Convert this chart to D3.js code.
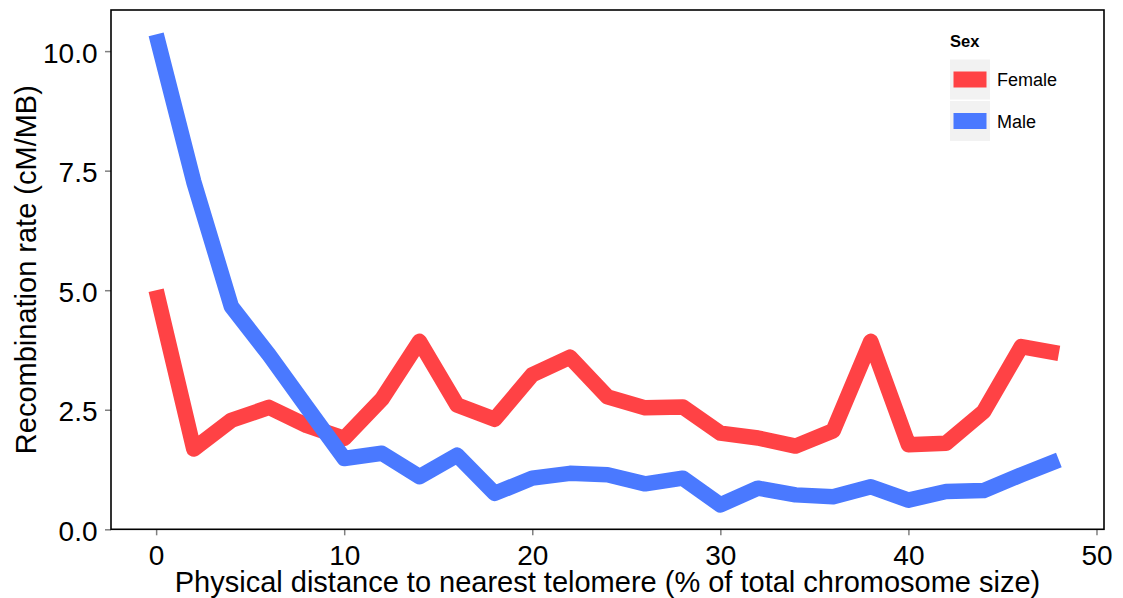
<!DOCTYPE html>
<html><head><meta charset="utf-8">
<script src="https://cdn.jsdelivr.net/npm/d3@7"></script>
<style>body{margin:0;background:#fff}svg{display:block;font-family:"Liberation Sans",Arial,sans-serif}</style>
</head><body><svg id="c" width="1123" height="598"></svg>
<script>
const distance = [0,2,4,6,8,10,12,14,16,18,20,22,24,26,28,30,32,34,36,38,40,42,44,46,48];
const female = [5.0,1.68,2.28,2.55,2.17,1.9,2.72,3.93,2.6,2.3,3.23,3.6,2.77,2.54,2.56,2.01,1.91,1.74,2.06,3.93,1.77,1.8,2.46,3.82,3.68];
const male = [10.35,7.27,4.66,3.65,2.56,1.48,1.59,1.1,1.55,0.75,1.07,1.17,1.14,0.95,1.07,0.51,0.86,0.72,0.68,0.89,0.61,0.79,0.81,1.14,1.45];
const seriesNames = ["Female","Male"];
const seriesColors = ["#FF4245","#4A79FF"];
const xTicks = [0,10,20,30,40,50];
const yTicks = [0,2.5,5,7.5,10];

const svg = d3.select("#c");
const L=111, R=1104, T=10, B=529.3;
const x = d3.scaleLinear().domain([-2.4,50.4]).range([L,R]);
const y = d3.scaleLinear().domain([0,10.86]).range([B,T]);

const xAxis = svg.append("g").attr("transform",`translate(0,${B})`)
  .call(d3.axisBottom(x).tickValues(xTicks).tickSize(6).tickPadding(6).tickFormat(d3.format("d")));
const yAxis = svg.append("g").attr("transform",`translate(${L},0)`)
  .call(d3.axisLeft(y).tickValues(yTicks).tickSize(6).tickPadding(7.5).tickFormat(d3.format(".1f")));
[xAxis,yAxis].forEach(a=>{
  a.select(".domain").remove();
  a.selectAll(".tick line").attr("stroke","#808080").attr("stroke-width",1.5);
  a.selectAll(".tick text").attr("fill","#000").style("font-size","28px");
});
xAxis.selectAll(".tick text").attr("y",16).attr("dy","0.71em");
yAxis.selectAll(".tick text").attr("dy","0.39em");

const line = d3.line().x((d,i)=>x(distance[i])).y(d=>y(d));
[female,male].forEach((s,k)=>{
  svg.append("path").datum(s).attr("d",line).attr("fill","none")
    .attr("stroke",seriesColors[k]).attr("stroke-width",15.5)
    .attr("stroke-linejoin","round").attr("stroke-linecap","butt");
});

svg.append("rect").attr("x",L).attr("y",T).attr("width",R-L).attr("height",B-T)
  .attr("fill","none").attr("stroke","#000").attr("stroke-width",1.6);

// legend
const lg = svg.append("g").attr("transform","translate(950,0)");
lg.append("text").attr("x",0).attr("y",47).text("Sex").style("font-size","16.5px").style("font-weight","bold");
seriesNames.forEach((n,i)=>{
  const g = lg.append("g").attr("transform",`translate(0,${59.5+i*41.5})`);
  g.append("rect").attr("width",40).attr("height",40).attr("fill","#F2F2F2");
  g.append("rect").attr("x",3.5).attr("y",12).attr("width",33).attr("height",16).attr("fill",seriesColors[i]);
  g.append("text").attr("x",47).attr("y",26.5).text(n).style("font-size","18px");
});

svg.append("text").attr("x",(L+R)/2).attr("y",591.5).attr("text-anchor","middle")
  .style("font-size","29px").text("Physical distance to nearest telomere (% of total chromosome size)");
svg.append("text").attr("transform",`translate(35.5,${(T+B)/2}) rotate(-90)`).attr("text-anchor","middle")
  .style("font-size","29px").text("Recombination rate (cM/MB)");
</script></body></html>
